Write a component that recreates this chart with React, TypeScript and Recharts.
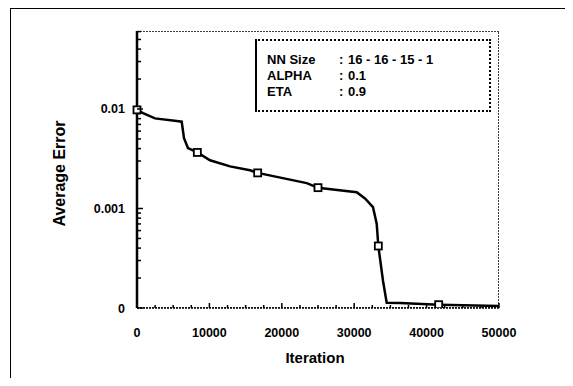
import React from 'react';
import { ComposedChart, Line, Scatter, XAxis, YAxis, ReferenceArea, Label } from 'recharts';

// training curve (log y axis)
const iterations = [0, 829, 2486, 5483, 6174, 6492, 7044, 8333, 10083, 12845, 15608, 16667, 23439, 25000, 30345, 31491, 32596, 33107, 33333, 33977, 34488, 36324, 41667, 50000];
const errors = [0.0098, 0.0091, 0.00805, 0.00757, 0.00745, 0.0051, 0.00404, 0.00366, 0.00305, 0.00265, 0.00242, 0.00228, 0.0018, 0.00162, 0.00146, 0.00126, 0.00103, 0.000705, 0.00042, 0.000188, 0.000113, 0.000112, 0.000108, 0.000105];

const markerIter = [0, 8333, 16667, 25000, 33333, 41667];
const markerErr = [0.0098, 0.00366, 0.00228, 0.00162, 0.00042, 0.000108];

const xTicks = [0, 10000, 20000, 30000, 40000, 50000];
const xMinorTicks = [2500, 5000, 7500, 12500, 15000, 17500, 22500, 25000, 27500, 32500, 35000, 37500, 42500, 45000, 47500];
const yTicks = [0.0001, 0.001, 0.01];
const yTickLabels = ['0', '0.001', '0.01'];
const yMinorTicks = [0.0002, 0.0003, 0.0004, 0.0005, 0.0006, 0.0007, 0.0008, 0.0009, 0.002, 0.003, 0.004, 0.005, 0.006, 0.007, 0.008, 0.009, 0.02, 0.03, 0.04, 0.05, 0.06];

const infoLabels = ['NN Size', 'ALPHA', 'ETA'];
const infoValues = ['16 - 16 - 15 - 1', '0.1', '0.9'];

const FONT = '"Liberation Sans", Arial, sans-serif';
const X_GAP = 20; // axis line -> tick label top
const Y_GAP = 12; // axis line -> tick label right edge

const curve = iterations.map((iter, i) => ({ iter, err: errors[i] }));
const markers = markerIter.map((iter, i) => ({ iter, err: markerErr[i] }));
const allXTicks = [...xTicks, ...xMinorTicks].sort((a, b) => a - b);
const allYTicks = [...yTicks, ...yMinorTicks].sort((a, b) => a - b);

const SquareMark = (props: any) => {
    const { cx, cy } = props;
    if (cx == null || cy == null) return null;
    return <rect x={cx - 3.5} y={cy - 3.5} width={7} height={7} fill="#fff" stroke="#000" strokeWidth={1.8} />;
};

const labelStyle = { fill: '#000', fontSize: 12.5, fontWeight: 700, fontFamily: FONT };

// x ticks point into the plot, label only on the major ones
const XTick = (props: any) => {
    const { x, y, payload } = props;
    const major = xTicks.includes(payload.value);
    const axisY = y - X_GAP;
    return (
        <g>
            <line x1={x} x2={x} y1={axisY} y2={axisY - (major ? 5 : 3)} stroke="#000" strokeWidth={1.5} />
            {major && (
                <text x={x} y={y + 9} textAnchor="middle" style={labelStyle}>
                    {payload.value}
                </text>
            )}
        </g>
    );
};

const YTick = (props: any) => {
    const { x, y, payload } = props;
    const i = yTicks.indexOf(payload.value);
    const axisX = x + Y_GAP;
    return (
        <g>
            <line x1={axisX} x2={axisX + (i >= 0 ? 6 : 4)} y1={y} y2={y} stroke="#000" strokeWidth={1.5} />
            {i >= 0 && (
                <text x={x} y={y + 4.5} textAnchor="end" style={labelStyle}>
                    {yTickLabels[i]}
                </text>
            )}
        </g>
    );
};

export default function App() {
    return (
        <div style={{ position: 'relative', width: 565, height: 378, marginBottom: -8, fontFamily: FONT }}>
            <ComposedChart
                width={565}
                height={378}
                margin={{ top: 23, right: 74, bottom: 18, left: 0 }}
            >
                <ReferenceArea
                    x1={0}
                    x2={50000}
                    y1={0.0001}
                    y2={0.0608}
                    fill="none"
                    stroke="#000"
                    strokeWidth={1.5}
                    strokeDasharray="2 1"
                    ifOverflow="hidden"
                />
                <XAxis
                    dataKey="iter"
                    type="number"
                    domain={[0, 50000]}
                    ticks={allXTicks}
                    interval={0}
                    height={60}
                    tickLine={false}
                    tickSize={0}
                    tickMargin={X_GAP}
                    axisLine={{ stroke: '#000', strokeWidth: 1.5, strokeDasharray: '2 1' }}
                    tick={<XTick />}
                >
                    <Label value="Iteration" position="insideBottom" offset={5} dx={-3}
                        style={{ fill: '#000', fontSize: 15, fontWeight: 700, fontFamily: FONT }} />
                </XAxis>
                <YAxis
                    dataKey="err"
                    scale="log"
                    type="number"
                    domain={[0.0001, 0.0608]}
                    allowDataOverflow
                    ticks={allYTicks}
                    interval={0}
                    width={129}
                    tickLine={false}
                    tickSize={0}
                    tickMargin={Y_GAP}
                    axisLine={{ stroke: '#000', strokeWidth: 2.5 }}
                    tick={<YTick />}
                >
                    <Label value="Average Error" angle={-90} position="center" dx={-13} dy={4}
                        style={{ fill: '#000', fontSize: 16, fontWeight: 700, fontFamily: FONT, textAnchor: 'middle' }} />
                </YAxis>
                <Line
                    data={curve}
                    dataKey="err"
                    type="linear"
                    stroke="#000"
                    strokeWidth={2.5}
                    dot={false}
                    activeDot={false}
                    isAnimationActive={false}
                />
                <Scatter data={markers} dataKey="err" shape={<SquareMark />} isAnimationActive={false} />
            </ComposedChart>
            <div
                style={{
                    position: 'absolute',
                    left: 247,
                    top: 31,
                    width: 236,
                    height: 73,
                    boxSizing: 'border-box',
                    borderTop: '2px dotted #000',
                    borderRight: '2px dotted #000',
                    borderBottom: '2px dotted #000',
                    borderLeft: '2px solid #000',
                    background: '#fff',
                    paddingTop: 11,
                    paddingLeft: 10,
                    fontSize: 13,
                    fontWeight: 700,
                    lineHeight: '16px',
                    color: '#000',
                    zIndex: 2,
                }}
            >
                {infoLabels.map((label, i) => (
                    <div key={label} style={{ display: 'flex', whiteSpace: 'pre' }}>
                        <span style={{ width: 72 }}>{label}</span>
                        <span style={{ width: 9 }}>:</span>
                        <span>{infoValues[i]}</span>
                    </div>
                ))}
            </div>
            <div
                style={{
                    position: 'absolute',
                    left: 2,
                    top: 0,
                    width: 559,
                    height: 378,
                    boxSizing: 'border-box',
                    borderLeft: '1.5px solid #000',
                    borderTop: '1.5px solid #000',
                    borderRight: '1.5px solid #000',
                    pointerEvents: 'none',
                    zIndex: 3,
                }}
            />
        </div>
    );
}
